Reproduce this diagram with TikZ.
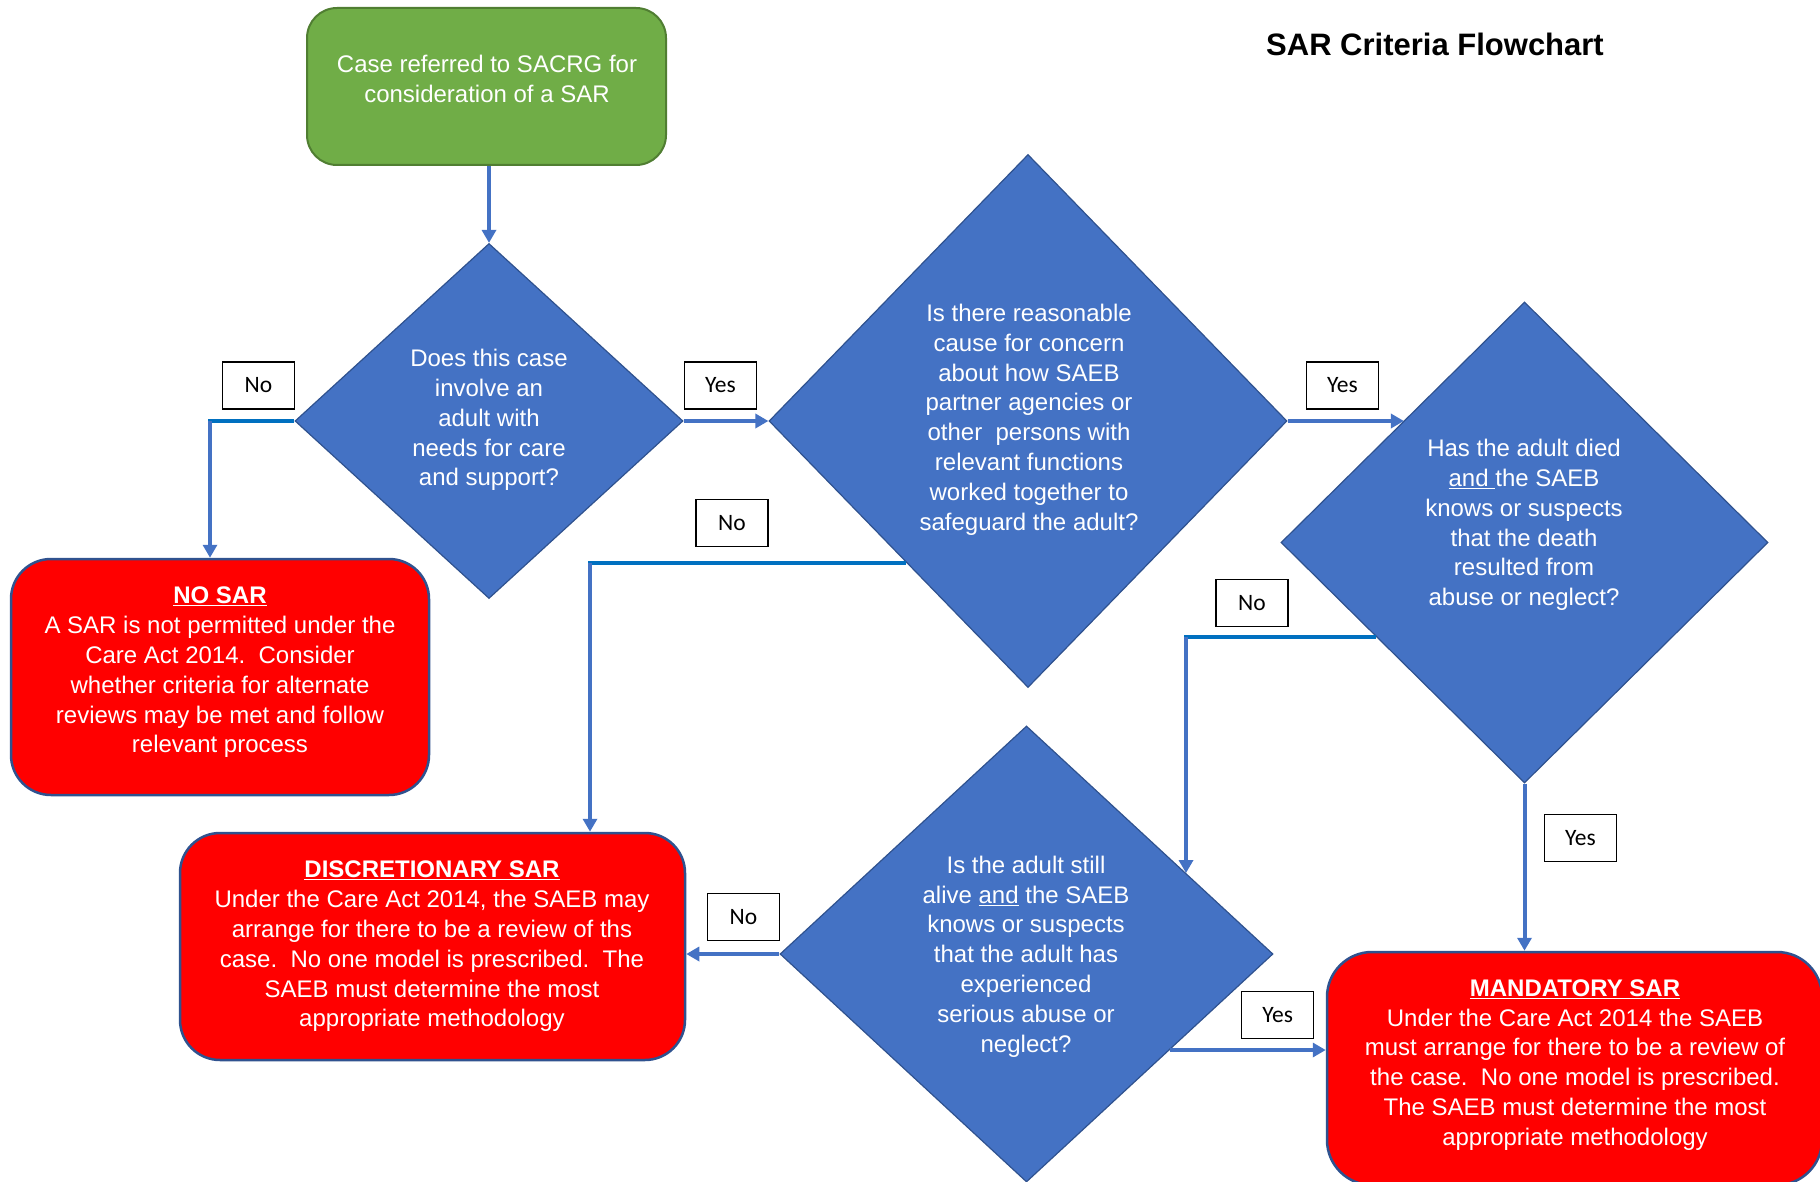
\documentclass[tikz,border=0pt]{standalone}
\usepackage{fontspec}
\setmainfont{Liberation Sans}
\newfontfamily\labfont{Carlito}
\usetikzlibrary{shapes.geometric,arrows.meta,calc}
\definecolor{dfill}{HTML}{4472C4}
\definecolor{dedge}{HTML}{2F528F}
\definecolor{gfill}{HTML}{70AD47}
\definecolor{gedge}{HTML}{507E32}
\definecolor{rfill}{HTML}{FF0000}
\definecolor{hblue}{HTML}{0070C0}
\begin{document}
\begin{tikzpicture}[x=1pt,y=-1pt,
  dia/.style={diamond, fill=dfill, draw=dedge, line width=1.2pt, inner sep=0pt},
  redbox/.style={rectangle, rounded corners=40pt, fill=rfill, draw=dedge, line width=2.5pt, inner sep=0pt},
  greenbox/.style={rectangle, rounded corners=30pt, fill=gfill, draw=gedge, line width=2pt, inner sep=0pt},
  body/.style={text=white, align=center, inner sep=0pt, yshift=-3pt, font=\fontsize{24}{29.8}\selectfont},
  lab/.style={draw=black, fill=white, line width=1.5pt, minimum width=72pt, minimum height=47pt, inner sep=0pt, font=\labfont\fontsize{23.5}{27}\selectfont},
  conn/.style={draw=dfill, line width=4pt, -{Triangle[length=13pt,width=14pt]}},
  seg/.style={draw=hblue, line width=4pt},
]
\useasboundingbox (0,0) rectangle (1820,1182);
\clip (0,0) rectangle (1820,1182);

% title
\node[font=\bfseries\fontsize{31}{36}\selectfont, inner sep=0pt] (title) at (1435,44) {SAR Criteria Flowchart};

% start box
\node[greenbox, minimum width=359pt, minimum height=157pt] (start) at (486.5,86.5) {};
\node[body] (startt) at (487,76) {Case referred to SACRG for\\consideration of a SAR};

% diamonds
\node[dia, minimum width=388pt, minimum height=355pt] (d1) at (489,421) {};
\node[dia, minimum width=518pt, minimum height=533pt] (d2) at (1028,421) {};
\node[dia, minimum width=487pt, minimum height=481pt] (d3) at (1524.5,542.5) {};
\node[dia, minimum width=493pt, minimum height=456pt] (d4) at (1026.5,954) {};

\node[body] (d1t) at (489,417) {Does this case\\involve an\\adult with\\needs for care\\and support?};
\node[body] (d2t) at (1029,416.5) {Is there reasonable\\cause for concern\\about how SAEB\\partner agencies or\\other\ \ persons with\\relevant functions\\worked together to\\safeguard the adult?};
\node[body] (d3t) at (1524,522) {Has the adult died\\\underline{and\ }the SAEB\\knows or suspects\\that the death\\resulted from\\abuse or neglect?};
\node[body] (d4t) at (1026,953.5) {Is the adult still\\alive \underline{and} the SAEB\\knows or suspects\\that the adult has\\experienced\\serious abuse or\\neglect?};

% outcome boxes
\node[redbox, minimum width=418pt, minimum height=236pt] (nosar) at (220,677) {};
\node[body] (nosart) at (220,669.5) {\underline{\textbf{NO SAR}}\\A SAR is not permitted under the\\Care Act 2014.\ \ Consider\\whether criteria for alternate\\reviews may be met and follow\\relevant process};

\node[redbox, minimum width=505pt, minimum height=227pt] (disc) at (432.5,946.5) {};
\node[body] (disct) at (432,943.5) {\underline{\textbf{DISCRETIONARY SAR}}\\Under the Care Act 2014, the SAEB may\\arrange for there to be a review of ths\\case.\ \ No one model is prescribed.\ \ The\\SAEB must determine the most\\appropriate methodology};

\node[redbox, rounded corners=45pt, minimum width=495pt, minimum height=233pt] (mand) at (1574.5,1068.5) {};
\node[body] (mandt) at (1575,1062) {\underline{\textbf{MANDATORY SAR}}\\Under the Care Act 2014 the SAEB\\must arrange for there to be a review of\\the case.\ \ No one model is prescribed.\\The SAEB must determine the most\\appropriate methodology};

% connectors
\draw[conn] (start.south -| d1.north) -- (d1.north);

\coordinate (c1) at (210,421);
\draw[seg] (d1.west) -- ([xshift=-2pt]c1);
\draw[conn] (c1) -- (c1 |- nosar.north);

\draw[conn] (d1.east) -- (d2.west);

\coordinate (p2) at ($(d2.west)!0.53!(d2.south)$);
\coordinate (c2x) at (590,700);
\coordinate (c2) at (c2x |- p2);
\draw[seg] (p2) -- ([xshift=-2pt]c2);
\draw[conn] (c2) -- (c2 |- disc.north);

\coordinate (p3) at ($(d3.west)!0.506!(d3.north)$);
\draw[conn] (d2.east) -- (d2.east -| p3);

\coordinate (p4) at ($(d3.west)!0.39!(d3.south)$);
\coordinate (c4x) at (1186,700);
\coordinate (c4) at (c4x |- p4);
\coordinate (p5) at ($(d4.north)!0.646!(d4.east)$);
\draw[seg] (p4) -- ([xshift=-2pt]c4);
\draw[conn] (c4) -- (c4 |- p5);

\draw[conn] (d3.south) -- (d3.south |- mand.north);
\draw[conn] (d4.west) -- (d4.west -| disc.east);
\coordinate (p6) at ($(d4.east)!0.42!(d4.south)$);
\draw[conn] (p6) -- (p6 -| mand.west);

% labels
\node[lab] (no1) at (258.5,385.5) {No};
\node[lab] (yes1) at (720.5,385.5) {Yes};
\node[lab] (no2) at (732,523) {No};
\node[lab] (yes2) at (1342.5,385.5) {Yes};
\node[lab] (no3) at (1252,603) {No};
\node[lab] (yes3) at (1580.5,838) {Yes};
\node[lab] (no4) at (743.5,917) {No};
\node[lab] (yes4) at (1277.7,1014.8) {Yes};
\end{tikzpicture}
\end{document}
